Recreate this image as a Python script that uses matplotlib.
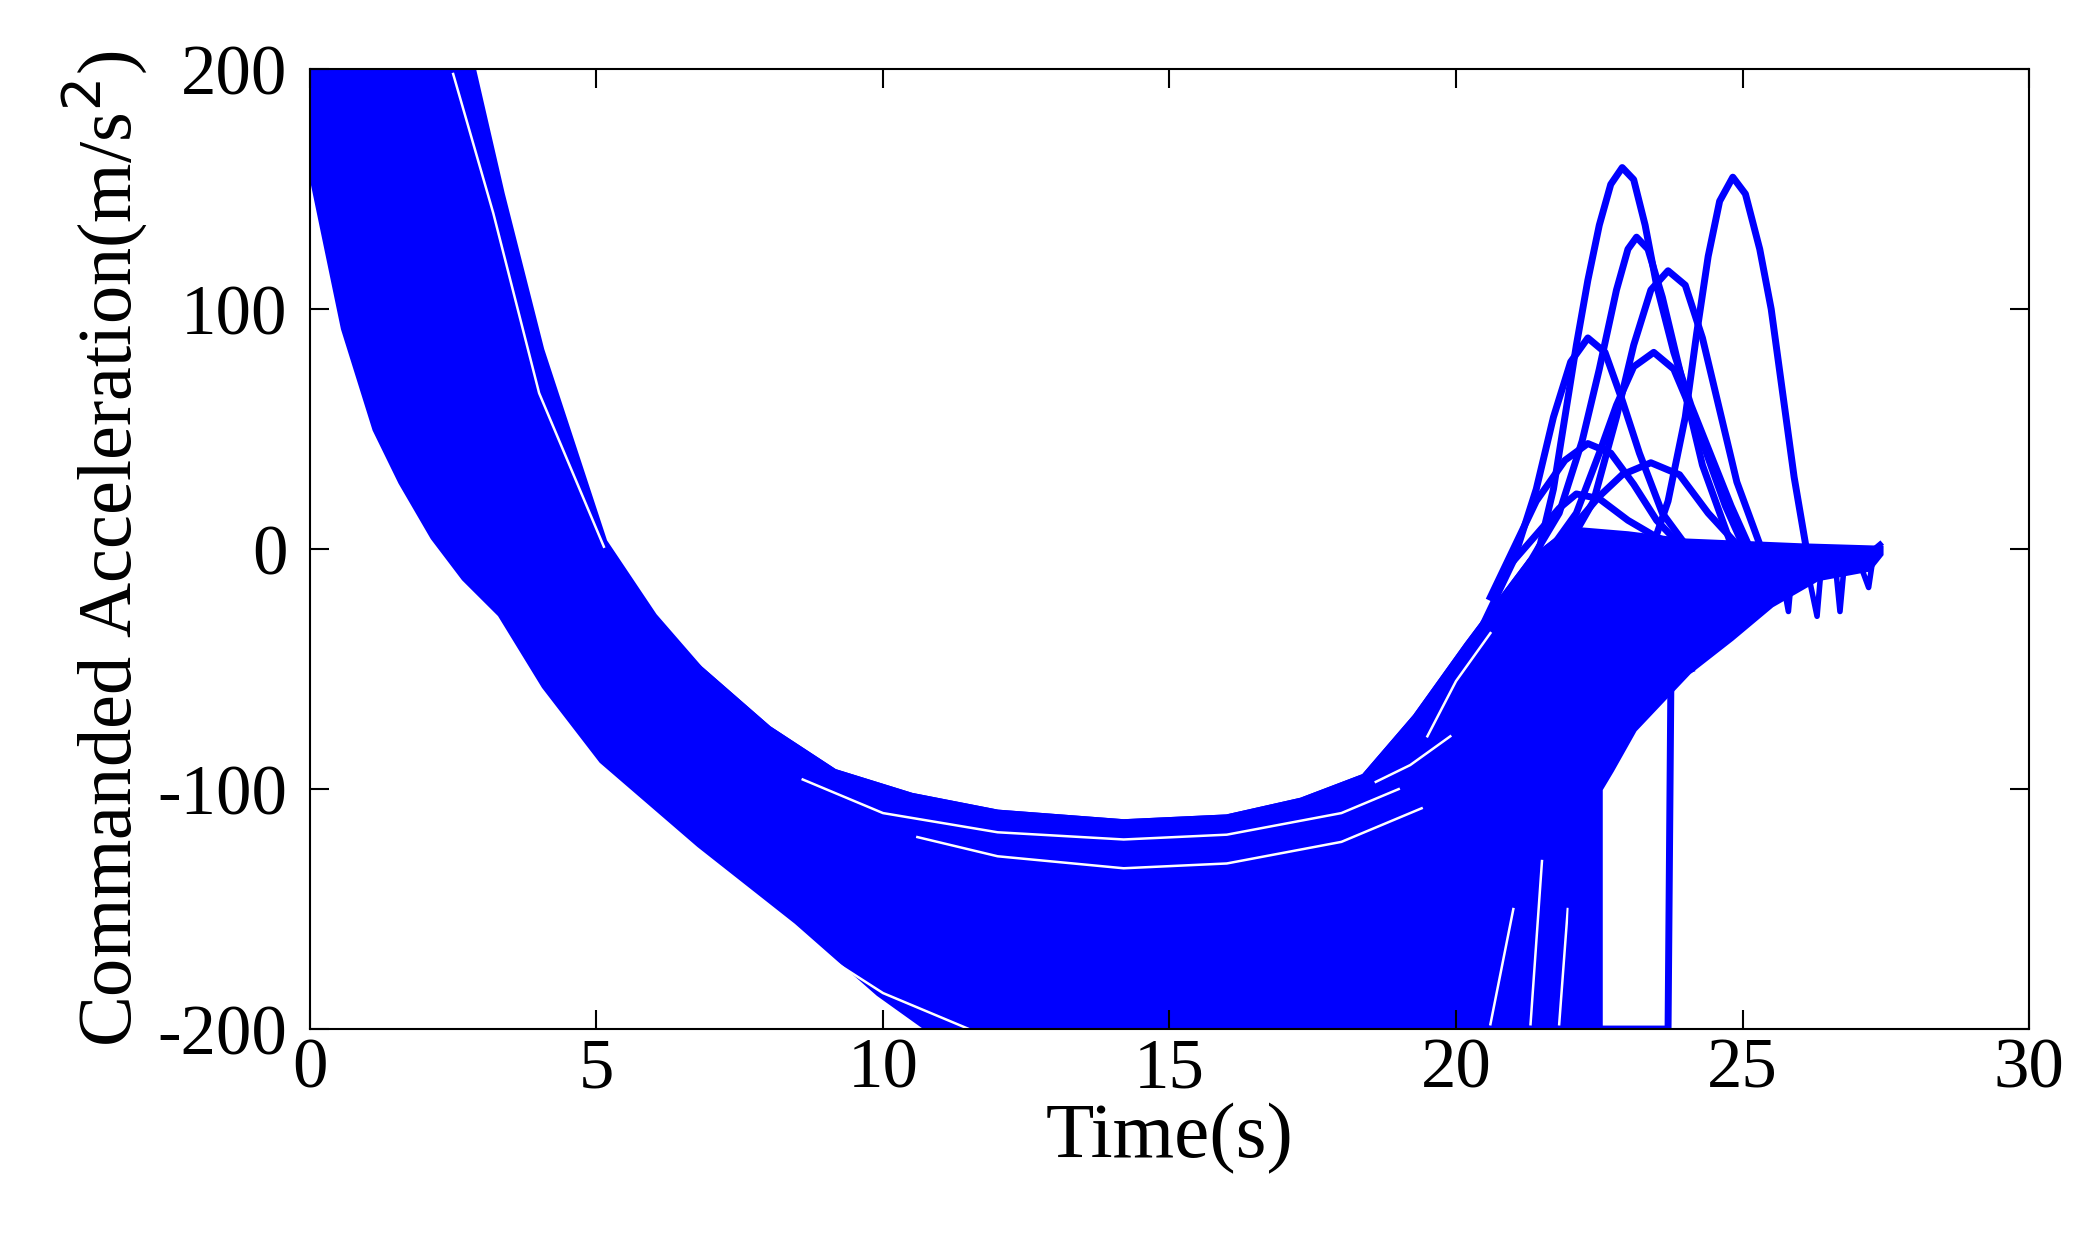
import matplotlib
matplotlib.use("Agg")
import matplotlib.pyplot as plt

plt.rcParams['font.family'] = ['Liberation Serif', 'DejaVu Serif']
plt.rcParams['axes.unicode_minus'] = False

# outline of the dense bundle of trajectories (top edge, then bottom edge back)
band_top_t = [0, 2.79, 3.34, 4.03, 5.13, 6.0, 6.8, 8.0, 9.15, 10.5, 12.0, 14.2, 16.0, 17.3, 18.4,
              19.3, 20.2, 21.3, 22.0, 23.0, 24.0, 25.0, 26.0, 27.4]
band_top_a = [205, 205, 148, 83, 3, -28, -50, -75, -93, -103, -110, -114, -112, -105, -95,
              -70, -40, -5, 8, 6, 3, 2, 1, 0]
band_bot_t = [27.4, 27.2, 26.3, 25.5, 24.8, 24.05, 23.1, 22.7, 22.5, 22.5, 11.1, 9.93, 8.5,
              6.8, 5.1, 4.1, 3.33, 2.7, 2.16, 1.6, 1.15, 0.6, 0]
band_bot_a = [-2, -8, -12, -23, -37, -51, -75, -92, -100, -205, -205, -185, -155,
              -123, -88, -57, -27, -12, 5, 28, 50, 92, 161]

# individual curve visible at the top of the bundle
top1_t = [6.8, 8.0, 9.15, 10.5, 12.0, 14.2, 16.0, 17.3, 18.4, 19.3, 20.2, 21.3, 22.0]
top1_a = [-50, -75, -93, -103, -110, -114, -112, -105, -95, -70, -40, -5, 8]
# thin gaps seen between neighbouring trajectories
gap1_t = [8.6, 10.0, 12.0, 14.2, 16.0, 18.0, 19.0]
gap1_a = [-96, -110, -118, -121, -119, -110, -100]
gap2_t = [10.6, 12.0, 14.2, 16.0, 18.0, 19.4]
gap2_a = [-120, -128, -133, -131, -122, -108]
gap3_t = [2.5, 3.2, 4.0, 5.13]
gap3_a = [198, 140, 65, 1]
gap4_t = [7.0, 8.5, 10.0, 11.5]
gap4_a = [-135, -162, -185, -200]
gapr1_t = [18.6, 19.2, 19.9]
gapr1_a = [-97, -90, -78]
gapr2_t = [19.5, 20.0, 20.6]
gapr2_a = [-78, -55, -35]
gapr3_t = [21.3, 21.5]
gapr3_a = [-198, -130]
gapr4_t = [21.8, 21.95]
gapr4_a = [-198, -150]
gapr5_t = [20.6, 21.0]
gapr5_a = [-198, -150]
gaps = [(gap1_t, gap1_a), (gap2_t, gap2_a), (gap3_t, gap3_a), (gap4_t, gap4_a),
        (gapr1_t, gapr1_a), (gapr2_t, gapr2_a), (gapr3_t, gapr3_a), (gapr4_t, gapr4_a),
        (gapr5_t, gapr5_a)]

# vertical jumps up from the lower limit
drop1_t = [22.5, 23.7, 23.75, 24.1]
drop1_a = [-200, -200, -53, -50]
drop2_t = [22.0, 22.05, 22.3]
drop2_a = [-200, -95, -60]
drop3_t = [22.3, 22.35, 22.6]
drop3_a = [-200, -100, -80]

# curves with positive peaks
p1_t = [20.8, 21.2, 21.47, 21.7, 21.9, 22.1, 22.3, 22.5, 22.7, 22.9, 23.1, 23.3, 23.5, 23.8, 24.1, 24.4, 24.8, 25.1]
p1_a = [-30, -12, 2, 25, 55, 85, 112, 135, 152, 159, 154, 135, 110, 82, 60, 42, 18, 2]
p2_t = [23.3, 23.7, 24.0, 24.2, 24.4, 24.6, 24.83, 25.05, 25.3, 25.5, 25.7, 25.9, 26.1]
p2_a = [-8, 20, 55, 90, 122, 145, 155, 148, 125, 100, 65, 30, 2]
p3_t = [21.3, 21.8, 22.2, 22.5, 22.8, 23.0, 23.15, 23.35, 23.6, 23.9, 24.3, 24.8]
p3_a = [-5, 15, 45, 75, 108, 125, 130, 125, 105, 75, 35, 2]
p4_t = [21.8, 22.4, 22.8, 23.1, 23.4, 23.7, 24.0, 24.3, 24.6, 24.9, 25.3]
p4_a = [-5, 20, 55, 85, 108, 116, 110, 88, 58, 28, 2]
p5_t = [20.5, 21.0, 21.4, 21.7, 22.0, 22.3, 22.6, 22.9, 23.2, 23.6, 24.0]
p5_a = [-30, -5, 25, 55, 78, 88, 82, 62, 40, 15, 2]
p6_t = [21.5, 22.1, 22.5, 22.8, 23.1, 23.45, 23.8, 24.1, 24.4, 24.7, 25.0]
p6_a = [-5, 15, 40, 60, 76, 82, 75, 58, 38, 18, 2]
p7_t = [20.6, 21.0, 21.4, 21.9, 22.3, 22.7, 23.1, 23.5, 23.9]
p7_a = [-20, 0, 20, 37, 44, 40, 27, 12, 2]
p8_t = [21.5, 22.0, 22.5, 22.9, 23.4, 23.9, 24.4, 24.9]
p8_a = [-5, 8, 22, 31, 36, 31, 15, 2]
p9_t = [21.0, 21.4, 21.8, 22.1, 22.5, 23.0, 23.5, 23.8]
p9_a = [-5, 6, 17, 23, 21, 12, 5, 2]
peaks = [(p1_t, p1_a), (p2_t, p2_a), (p3_t, p3_a), (p4_t, p4_a), (p5_t, p5_a),
         (p6_t, p6_a), (p7_t, p7_a), (p8_t, p8_a), (p9_t, p9_a)]

# chattering tail near zero
tail_t = [24.5, 25.0, 25.3, 25.4, 25.6, 25.8, 25.9, 26.1, 26.3, 26.4, 26.6, 26.7, 26.8, 27.0, 27.2, 27.3, 27.4]
tail_a = [-5, -3, 0, -22, 0, -26, 0, -5, -28, 0, -2, -26, 0, -3, -16, 0, 2]

blue = '#0000FF'
lw = 5.0

fig = plt.figure(figsize=(20.94, 12.58), dpi=100)
ax = fig.add_axes([0.148, 0.182, 0.821, 0.763])

ax.fill(band_top_t + band_bot_t, band_top_a + band_bot_a, color=blue, lw=lw, ec=blue)
ax.plot(top1_t, top1_a, color=blue, lw=lw)
for t, a in gaps:
    ax.plot(t, a, color='white', lw=1.8)
for t, a in [(drop1_t, drop1_a), (drop2_t, drop2_a), (drop3_t, drop3_a)] + peaks:
    ax.plot(t, a, color=blue, lw=lw)
ax.plot(tail_t, tail_a, color=blue, lw=4)

ax.set_xlim(0, 30)
ax.set_ylim(-200, 200)
ax.set_xticks([0, 5, 10, 15, 20, 25, 30])
ax.set_yticks([-200, -100, 0, 100, 200])
ax.tick_params(direction='in', top=True, right=True, labelsize=51, length=14, width=1.5)
ax.tick_params(axis='y', pad=16)
ax.tick_params(axis='x', pad=6)
ax.set_xlabel('Time(s)', fontsize=57, labelpad=0)
ax.set_ylabel('Commanded Acceleration(m/s$^2$)', fontsize=55, labelpad=6)
for s in ax.spines.values():
    s.set_linewidth(1.5)
    s.set_zorder(5)

fig.savefig('out.png', dpi=100)
